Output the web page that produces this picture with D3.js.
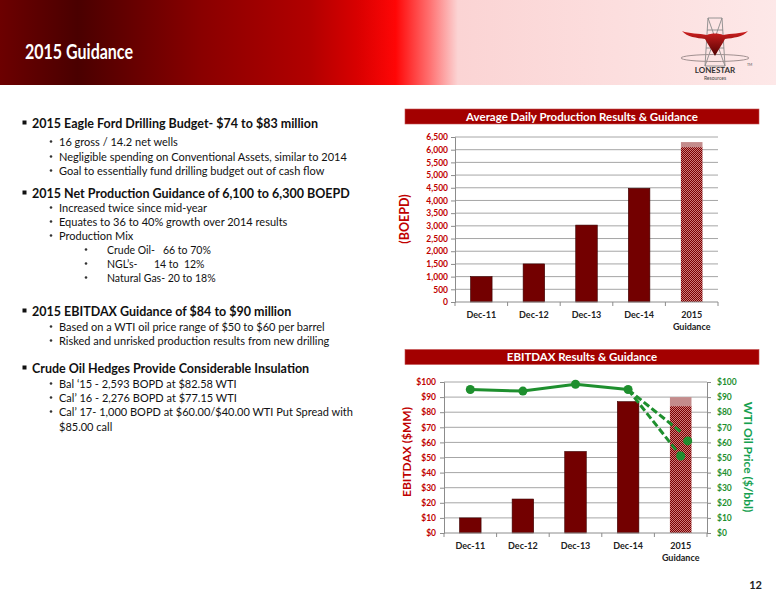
<!DOCTYPE html>
<html>
<head>
<meta charset="utf-8">
<title>2015 Guidance</title>
<script src="https://cdn.jsdelivr.net/npm/d3@7"></script>
<style>
  body { margin: 0; background: #fff; }
  text { font-family: Lato, "Open Sans", sans-serif; }
</style>
</head>
<body>
<svg width="776" height="600"></svg>
<script>

// ---- data ----
var categories = ["Dec-11", "Dec-12", "Dec-13", "Dec-14", "2015"];
var categorySub = ["", "", "", "", "Guidance"];

var productionBoepd = [1000, 1500, 3030, 4480];
var productionGuidance = [6100, 6300];   // low, high
var productionTicks = d3.range(0, 6501, 500);

var ebitdaxMM = [10, 22.5, 54, 87];
var ebitdaxGuidance = [84, 90];           // low, high
var wtiPrice = [95, 94, 98.5, 95];
var wtiDashEnd = [67, 51];
var wtiGuidance = [61, 51];
var dollarTicks = d3.range(0, 101, 10);

var bullets = [
  [1, "2015 Eagle Ford Drilling Budget- $74 to $83 million"],
  [2, "16 gross / 14.2 net wells"],
  [2, "Negligible spending on Conventional Assets, similar to 2014"],
  [2, "Goal to essentially fund drilling budget out of cash flow"],
  [1, "2015 Net Production Guidance of 6,100 to 6,300 BOEPD"],
  [2, "Increased twice since mid-year"],
  [2, "Equates to 36 to 40% growth over 2014 results"],
  [2, "Production Mix"],
  [3, "Crude Oil-", "66 to 70%"],
  [3, "NGL\u2019s-", "14 to  12%"],
  [3, "Natural Gas- 20 to 18%", ""],
  [1, "2015 EBITDAX Guidance of $84 to $90 million"],
  [2, "Based on a WTI oil price range of $50 to $60 per barrel"],
  [2, "Risked and unrisked production results from new drilling"],
  [1, "Crude Oil Hedges Provide Considerable Insulation"],
  [2, "Bal \u201815 - 2,593 BOPD at  $82.58 WTI"],
  [2, "Cal\u2019 16 - 2,276 BOPD at  $77.15 WTI"],
  [2, "Cal\u2019 17- 1,000 BOPD at $60.00/$40.00 WTI Put Spread with"],
  [0, "$85.00 call"]
];
var bulletY = [124, 142, 157, 171, 194, 208, 222, 236, 250, 264, 278,
               312, 327, 341, 369, 384, 398, 412, 427];

// ---- setup ----
var svg = d3.select("svg");
var defs = svg.append("defs");

var red = "#c00000", barFill = "#730000", green = "#1e8f2e";

var grad = defs.append("linearGradient").attr("id", "hdr")
    .attr("x1", 0).attr("x2", 1).attr("y1", 0).attr("y2", 0);
[[0, "#6c0000"], [0.1, "#4a0000"], [0.26, "#8a0000"], [0.4, "#b20000"],
 [0.46, "#d80000"], [0.51, "#ff0606"], [0.555, "#ff7474"], [0.59, "#fbd4d4"],
 [1, "#fde8e8"]].forEach(function(s) {
  grad.append("stop").attr("offset", s[0]).attr("stop-color", s[1]);
});

var hornGrad = defs.append("linearGradient").attr("id", "horn")
    .attr("x1", 0).attr("x2", 0).attr("y1", 0).attr("y2", 1);
hornGrad.append("stop").attr("offset", 0).attr("stop-color", "#d02020");
hornGrad.append("stop").attr("offset", 1).attr("stop-color", "#500000");

var pat = defs.append("pattern").attr("id", "hatch")
    .attr("width", 2).attr("height", 2).attr("patternUnits", "userSpaceOnUse");
pat.append("rect").attr("width", 2).attr("height", 2).attr("fill", "#780000");
pat.append("rect").attr("width", 1).attr("height", 1).attr("fill", "#cf7a7a");
pat.append("rect").attr("x", 1).attr("y", 1).attr("width", 1).attr("height", 1).attr("fill", "#cf7a7a");

// ---- header ----
svg.append("rect").attr("width", 776).attr("height", 85).attr("fill", "url(#hdr)");
svg.append("text").attr("x", 25).attr("y", 59)
    .attr("fill", "#fff").attr("font-size", 21).attr("font-weight", "bold")
    .attr("textLength", 108).attr("lengthAdjust", "spacingAndGlyphs")
    .text("2015 Guidance");

// logo
var logo = svg.append("g").attr("transform", "translate(715,0)");
logo.append("path")
    .attr("d", "M-7,18 L7,18 L10,66 L-10,66 Z M-7,18 L10,66 M7,18 L-10,66 M-8,30 L8,30 M-9,48 L9,48")
    .attr("fill", "none").attr("stroke", "#8a8a8a").attr("stroke-width", 0.9);
logo.append("ellipse").attr("cx", 0).attr("cy", 58).attr("rx", 34).attr("ry", 3.5)
    .attr("fill", "none").attr("stroke", "#a09090").attr("stroke-width", 1);
logo.append("path")
    .attr("d", "M-33,31 C-26,34 -16,33 -8,35 C-4,33 4,33 8,35 C16,33 26,34 33,31 C28,37 18,38 10,39 C7,45 3,50 0,56 C-3,50 -7,45 -10,39 C-18,38 -28,37 -33,31 Z")
    .attr("fill", "url(#horn)");
logo.append("text").attr("x", 0).attr("y", 73).attr("text-anchor", "middle")
    .attr("font-size", 8).attr("font-weight", "bold").attr("fill", "#333")
    .attr("font-family", "Liberation Serif")
    .text("LONESTAR");
logo.append("text").attr("x", 0).attr("y", 80).attr("text-anchor", "middle")
    .attr("font-size", 5).attr("fill", "#444").text("Resources");
logo.append("text").attr("x", 32).attr("y", 66)
    .attr("font-size", 3.5).attr("fill", "#555").text("TM");

// ---- bullets ----
var bl = svg.append("g");
bullets.forEach(function(b, i) {
  var y = bulletY[i], lvl = b[0];
  if (lvl === 1) {
    bl.append("rect").attr("x", 22.5).attr("y", y - 3.5).attr("width", 4).attr("height", 4).attr("fill", "#111");
    bl.append("text").attr("x", 32).attr("y", y + 4).attr("font-size", 12.5)
        .attr("font-weight", "bold").attr("fill", "#111").text(b[1]);
  } else if (lvl === 2 || lvl === 0) {
    if (lvl === 2) bl.append("circle").attr("cx", 51).attr("cy", y - 0.5).attr("r", 1.3).attr("fill", "#333");
    bl.append("text").attr("x", 59).attr("y", y + 4).attr("font-size", 11)
        .attr("fill", "#111").text(b[1]);
  } else {
    bl.append("circle").attr("cx", 86).attr("cy", y - 0.5).attr("r", 1.3).attr("fill", "#333");
    var lab = bl.append("text").attr("x", 107).attr("y", y + 4).attr("font-size", 10.5)
        .attr("fill", "#111").text(b[1]);
    var end = 107 + lab.node().getComputedTextLength();
    if (b[2]) bl.append("text").attr("x", Math.max(154, end + 8)).attr("y", y + 4).attr("font-size", 10.5)
        .attr("fill", "#111").attr("xml:space", "preserve").text(b[2]);
  }
});

// ---- chart helpers ----
function titleBar(y, label) {
  svg.append("rect").attr("x", 405).attr("y", y).attr("width", 354).attr("height", 15)
      .attr("fill", "#a30000").attr("stroke", "#c35050").attr("stroke-width", 0.6);
  svg.append("text").attr("x", 582).attr("y", y + 11.5).attr("text-anchor", "middle")
      .attr("fill", "#fff").attr("font-size", 11.5).attr("font-weight", "bold").text(label);
}

function xLabels(g, x, y0) {
  g.selectAll("text.cat").data(categories).enter().append("text")
      .attr("class", "cat")
      .attr("x", function(d) { return x(d) + x.bandwidth() / 2; })
      .attr("y", y0 + 16).attr("text-anchor", "middle")
      .attr("font-size", 9).attr("font-weight", "bold").attr("fill", "#222")
      .text(function(d) { return d; });
  g.selectAll("text.sub").data(categorySub).enter().append("text")
      .attr("x", function(d, i) { return x(categories[i]) + x.bandwidth() / 2; })
      .attr("y", y0 + 28).attr("text-anchor", "middle")
      .attr("font-size", 9).attr("font-weight", "bold").attr("fill", "#222")
      .text(function(d) { return d; });
}

function styleAxis(sel, color) {
  sel.selectAll(".domain").attr("stroke", "#8c8c8c");
  sel.selectAll(".tick line").attr("stroke", "#8c8c8c");
  sel.selectAll(".tick text").attr("fill", color).attr("font-size", 8.5)
      .attr("font-weight", "bold").attr("font-family", "Lato, sans-serif");
}

// ---- chart 1: production ----
titleBar(109, "Average Daily Production Results & Guidance");

var x1 = d3.scaleBand().domain(categories).range([455, 718]);
var y1 = d3.scaleLinear().domain([0, 6500]).range([302, 137]);
var bw1 = x1.bandwidth() * 0.41;
var c1 = svg.append("g");

c1.selectAll("line.grid").data(productionTicks.slice(1)).enter().append("line")
    .attr("x1", 455).attr("x2", 718)
    .attr("y1", function(d) { return y1(d); }).attr("y2", function(d) { return y1(d); })
    .attr("stroke", "#a6a6a6").attr("stroke-width", 1);

c1.selectAll("rect.bar").data(productionBoepd).enter().append("rect")
    .attr("x", function(d, i) { return x1(categories[i]) + (x1.bandwidth() - bw1) / 2; })
    .attr("y", function(d) { return y1(d); })
    .attr("width", bw1).attr("height", function(d) { return y1(0) - y1(d); })
    .attr("fill", barFill).attr("stroke", "#3a0000").attr("stroke-width", 0.6);

var gx1 = x1(categories[4]) + (x1.bandwidth() - bw1) / 2;
c1.append("rect").attr("x", gx1).attr("width", bw1)
    .attr("y", y1(productionGuidance[1])).attr("height", y1(productionGuidance[0]) - y1(productionGuidance[1]))
    .attr("fill", "#c48c8c");
c1.append("rect").attr("x", gx1).attr("width", bw1)
    .attr("y", y1(productionGuidance[0])).attr("height", y1(0) - y1(productionGuidance[0]))
    .attr("fill", "url(#hatch)");

var ax1 = c1.append("g").attr("transform", "translate(455,0)")
    .call(d3.axisLeft(y1).tickValues(productionTicks).tickSize(4).tickPadding(3)
      .tickFormat(d3.format(",")));
styleAxis(ax1, red);

c1.append("line").attr("x1", 455).attr("x2", 718).attr("y1", 302).attr("y2", 302).attr("stroke", "#8c8c8c");
c1.selectAll("line.tk").data(d3.range(6)).enter().append("line")
    .attr("x1", function(i) { return 455 + i * x1.step(); })
    .attr("x2", function(i) { return 455 + i * x1.step(); })
    .attr("y1", 302).attr("y2", 306).attr("stroke", "#8c8c8c");
xLabels(c1, x1, 302);

svg.append("text").attr("transform", "translate(409,219) rotate(-90)")
    .attr("text-anchor", "middle").attr("fill", red)
    .attr("font-size", 12.5).attr("font-weight", "bold").text("(BOEPD)");

// ---- chart 2: EBITDAX ----
titleBar(349.5, "EBITDAX Results & Guidance");

var x2 = d3.scaleBand().domain(categories).range([444, 707]);
var y2 = d3.scaleLinear().domain([0, 100]).range([533, 382]);
var bw2 = x2.bandwidth() * 0.41;
var c2 = svg.append("g");

c2.selectAll("line.grid").data(dollarTicks.slice(1)).enter().append("line")
    .attr("x1", 444).attr("x2", 707)
    .attr("y1", function(d) { return y2(d); }).attr("y2", function(d) { return y2(d); })
    .attr("stroke", "#a6a6a6").attr("stroke-width", 1);

c2.selectAll("rect.bar").data(ebitdaxMM).enter().append("rect")
    .attr("x", function(d, i) { return x2(categories[i]) + (x2.bandwidth() - bw2) / 2; })
    .attr("y", function(d) { return y2(d); })
    .attr("width", bw2).attr("height", function(d) { return y2(0) - y2(d); })
    .attr("fill", barFill).attr("stroke", "#3a0000").attr("stroke-width", 0.6);

var gx2 = x2(categories[4]) + (x2.bandwidth() - bw2) / 2;
c2.append("rect").attr("x", gx2).attr("width", bw2)
    .attr("y", y2(ebitdaxGuidance[1])).attr("height", y2(ebitdaxGuidance[0]) - y2(ebitdaxGuidance[1]))
    .attr("fill", "#c48c8c");
c2.append("rect").attr("x", gx2).attr("width", bw2)
    .attr("y", y2(ebitdaxGuidance[0])).attr("height", y2(0) - y2(ebitdaxGuidance[0]))
    .attr("fill", "url(#hatch)");

var fmt$ = function(d) { return "$" + d; };
var ax2 = c2.append("g").attr("transform", "translate(444,0)")
    .call(d3.axisLeft(y2).tickValues(dollarTicks).tickSize(4).tickPadding(4).tickFormat(fmt$));
styleAxis(ax2, red);
var ar2 = c2.append("g").attr("transform", "translate(707,0)")
    .call(d3.axisRight(y2).tickValues(dollarTicks).tickSize(4).tickPadding(6).tickFormat(fmt$));
styleAxis(ar2, green);

c2.append("line").attr("x1", 444).attr("x2", 707).attr("y1", 533).attr("y2", 533).attr("stroke", "#8c8c8c");
c2.selectAll("line.tk").data(d3.range(6)).enter().append("line")
    .attr("x1", function(i) { return 444 + i * x2.step(); })
    .attr("x2", function(i) { return 444 + i * x2.step(); })
    .attr("y1", 533).attr("y2", 537).attr("stroke", "#8c8c8c");
xLabels(c2, x2, 533);

// WTI line
var cx2 = function(i) { return x2(categories[i]) + x2.bandwidth() / 2; };
var line = d3.line().x(function(d) { return cx2(d[0]); }).y(function(d) { return y2(d[1]); });
c2.append("path").datum(wtiPrice.map(function(v, i) { return [i, v]; }))
    .attr("d", line).attr("fill", "none").attr("stroke", green).attr("stroke-width", 3);
wtiDashEnd.forEach(function(v) {
  c2.append("path").datum([[3, wtiPrice[3]], [4, v]])
      .attr("d", line).attr("fill", "none").attr("stroke", green)
      .attr("stroke-width", 3).attr("stroke-dasharray", "7,3");
});
c2.selectAll("circle.wti").data(wtiPrice).enter().append("circle")
    .attr("cx", function(d, i) { return cx2(i); }).attr("cy", function(d) { return y2(d); })
    .attr("r", 4.5).attr("fill", green);
var markerShift = [7, 0];
c2.selectAll("circle.wtig").data(wtiGuidance).enter().append("circle")
    .attr("cx", function(d, i) { return cx2(4) + markerShift[i]; })
    .attr("cy", function(d) { return y2(d); })
    .attr("r", 4.5).attr("fill", green);

svg.append("text").attr("transform", "translate(411,452) rotate(-90)")
    .attr("text-anchor", "middle").attr("fill", red).attr("font-family", "Liberation Sans")
    .attr("font-size", 12).attr("font-weight", "bold").text("EBITDAX ($MM)");
svg.append("text").attr("transform", "translate(744,457) rotate(90)")
    .attr("text-anchor", "middle").attr("fill", "#16a050")
    .attr("font-size", 12).attr("font-weight", "bold").text("WTI Oil Price ($/bbl)");

// page number
svg.append("text").attr("x", 762).attr("y", 589).attr("text-anchor", "end")
    .attr("font-family", "Liberation Sans").attr("font-size", 11).attr("font-weight", "bold")
    .attr("fill", "#222").text("12");

</script>
</body>
</html>
